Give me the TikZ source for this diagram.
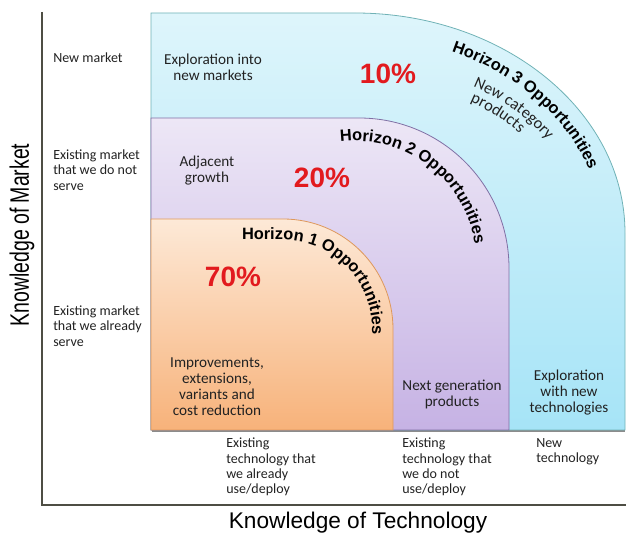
\documentclass[tikz,border=0pt]{standalone}
\usepackage{fontspec}
\setmainfont{Carlito}
\newfontfamily\arialf{Liberation Sans}
\usetikzlibrary{decorations.text}

\definecolor{bluetop}{RGB}{222,245,251}
\definecolor{bluebot}{RGB}{166,228,247}
\definecolor{blueedge}{RGB}{112,178,182}
\definecolor{purtop}{RGB}{237,231,246}
\definecolor{purbot}{RGB}{198,178,228}
\definecolor{puredge}{RGB}{128,112,165}
\definecolor{ortop}{RGB}{253,233,215}
\definecolor{orbot}{RGB}{247,178,122}
\definecolor{oredge}{RGB}{222,152,92}
\definecolor{pctred}{RGB}{226,26,30}
\definecolor{axisgray}{RGB}{78,78,68}
\definecolor{txt}{RGB}{34,34,34}

\begin{document}
\begin{tikzpicture}[x=0.75pt,y=0.75pt,
  lbl/.style={font=\fontsize{10.5}{11.4}\selectfont, inner sep=0pt, align=left, text=txt},
  ctr/.style={inner sep=0pt, align=center, text=txt, font=\fontsize{11.4}{12}\selectfont},
  pct/.style={font=\arialf\bfseries\fontsize{21}{24}\selectfont, text=pctred, inner sep=0pt},
  horiz/.style={decorate, decoration={text along path, text={|\arialf\bfseries\fontsize{12.3}{14}\selectfont|#1}}},
  slanted/.style={decorate, decoration={text along path, text={|\fontsize{12.3}{14}\selectfont\color{txt}|#1}}},
  region/.style n args={3}{top color=#1, bottom color=#2, draw=#3, line width=0.6pt}
]
\useasboundingbox (0,0) rectangle (626,536);

% shadow under the regions
\draw[black!45, line width=1.6pt] (152,105) -- (625,105);

% Horizon 3 region
\shadedraw[region={bluetop}{bluebot}{blueedge}]
  (151,106) -- (151,523) -- (355,523)
  arc[start angle=90,end angle=0,x radius=270,y radius=220] -- (625,106) -- cycle;
% Horizon 2 region
\shadedraw[region={purtop}{purbot}{puredge}]
  (151,106) -- (151,418) -- (359,418)
  arc[start angle=90,end angle=0,radius=150] -- (509,106) -- cycle;
% Horizon 1 region
\shadedraw[region={ortop}{orbot}{oredge}]
  (151,106) -- (151,317) -- (283,317)
  arc[start angle=90,end angle=0,radius=110] -- (393,106) -- cycle;

% axes
\draw[axisgray, line width=1.6pt] (42,524) -- (42,31) -- (626,31);

% axis titles
\node[rotate=90, inner sep=0pt] (ylab) at (22,301)
  {\scalebox{0.73}[1]{\arialf\fontsize{20}{24}\selectfont Knowledge of Market}};
\node[inner sep=0pt] (xlab) at (358,13)
  {\arialf\fontsize{17}{20}\selectfont Knowledge of Technology};

% market labels
\node[lbl, anchor=west] (m3) at (53,478) {New market};
\node[lbl, anchor=west] (m2) at (53,366) {Existing market\\that we do not\\serve};
\node[lbl, anchor=west] (m1) at (53,210) {Existing market\\that we already\\serve};

% technology labels
\node[lbl, anchor=north west] (t1) at (226,98) {Existing\\technology that\\we already\\use/deploy};
\node[lbl, anchor=north west] (t2) at (402,98) {Existing\\technology that\\we do not\\use/deploy};
\node[lbl, anchor=north west] (t3) at (536,98) {New\\technology};

% region texts
\node[ctr] (r3a) at (213,469) {Exploration into\\new markets};
\node[ctr] (r2a) at (207,365) {Adjacent\\growth};
\node[ctr] (r1) at (217,149) {Improvements,\\extensions,\\variants and\\cost reduction};
\node[ctr] (r2b) at (452,142) {Next generation\\products};
\node[ctr] (r3b) at (569,143) {Exploration\\with new\\technologies};

% percentages
\node[pct] (p10) at (388,462) {10\%};
\node[pct] (p20) at (322,358) {20\%};
\node[pct] (p70) at (233,259) {70\%};

% curved horizon titles
\path[horiz={Horizon 1 Opportunities}]
  (242,296) -- (283,296) arc[start angle=90,end angle=0,radius=89] -- (372,170);
\path[horiz={Horizon 2 Opportunities}]
  (340.3,394.1) arc[start angle=97,end angle=-25,radius=121];
\path[horiz={Horizon 3 Opportunities}]
  (451.5,484.3) arc[start angle=67,end angle=-10,x radius=247,y radius=197];

% new category products
\path[slanted={New category}]
  (473,449) arc[start angle=68,end angle=10,radius=194];
\path[slanted={products}]
  (470,434) arc[start angle=67,end angle=10,radius=179];
\end{tikzpicture}
\end{document}
